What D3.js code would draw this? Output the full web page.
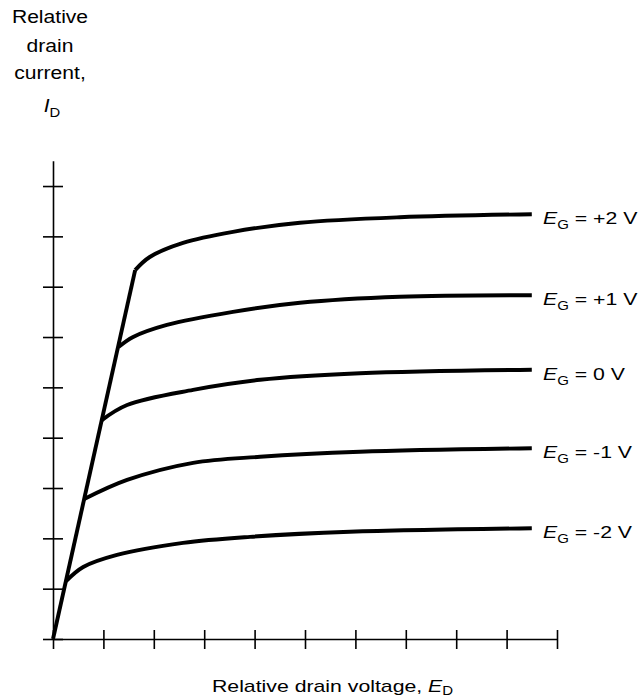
<!DOCTYPE html>
<html>
<head>
<meta charset="utf-8">
<script src="https://cdn.jsdelivr.net/npm/d3@7"></script>
<style>
body { margin: 0; background: #fff; }
text { font-family: "Liberation Sans", Arial, sans-serif; fill: #000; }
</style>
</head>
<body>
<div id="chart"></div>
<script>

// gate voltage of each curve, top to bottom
const gateVolts = ['+2', '+1', '0', '-1', '-2'];

// points of each curve, [relative drain voltage, relative drain current]
const egPlus2  = [[1.63, 7.33], [1.92, 7.59], [2.58, 7.87], [3.57, 8.09], [4.90, 8.27], [6.88, 8.38], [9.5, 8.44]];
const egPlus1  = [[1.30, 5.80], [1.59, 6.00], [2.26, 6.24], [3.57, 6.50], [4.90, 6.68], [6.88, 6.80], [9.5, 6.83]];
const egZero   = [[0.97, 4.35], [1.47, 4.65], [2.78, 4.95], [4.11, 5.15], [6.09, 5.28], [9.5, 5.35]];
const egMinus1 = [[0.62, 2.78], [1.47, 3.16], [2.78, 3.50], [4.11, 3.62], [6.09, 3.72], [9.5, 3.79]];
const egMinus2 = [[0.26, 1.15], [0.60, 1.43], [1.27, 1.67], [2.58, 1.91], [3.91, 2.03], [5.89, 2.13], [9.5, 2.20]];
const curves = [egPlus2, egPlus1, egZero, egMinus1, egMinus2];

// the steep ohmic part shared by all curves
const loadLine = [[0, 0], [1.63, 7.33]];

const xTicks = d3.range(0, 11);
const yTicks = d3.range(0, 10);

const width = 644, height = 698;

const svg = d3.select('#chart').append('svg')
    .attr('width', width)
    .attr('height', height);

const x = d3.scaleLinear().domain([0, 10]).range([53, 557]);
const y = d3.scaleLinear().domain([0, 9.5]).range([639, 639 - 9.5 * 50.33]);

// axes, ticks cross the axis line
const xAxis = svg.append('g')
    .attr('transform', 'translate(0,' + y(0) + ')')
    .call(d3.axisBottom(x).tickValues(xTicks).tickSizeOuter(0).tickFormat(''));
xAxis.selectAll('.tick line').attr('y1', -9).attr('y2', 10);

const yAxis = svg.append('g')
    .attr('transform', 'translate(' + x(0) + ',0)')
    .call(d3.axisLeft(y).tickValues(yTicks).tickSizeOuter(0).tickFormat(''));
yAxis.selectAll('.tick line').attr('x1', -10).attr('x2', 10);

svg.selectAll('.domain, .tick line')
    .attr('stroke', '#000')
    .attr('stroke-width', 1.6);

const line = d3.line()
    .x((d) => x(d[0]))
    .y((d) => y(d[1]))
    .curve(d3.curveCatmullRom.alpha(0.5));

svg.append('path')
    .attr('fill', 'none')
    .attr('stroke', '#000')
    .attr('stroke-width', 3.9)
    .attr('d', d3.line().x((d) => x(d[0])).y((d) => y(d[1]))(loadLine));

svg.selectAll('path.curve')
    .data(curves)
    .enter().append('path')
    .attr('class', 'curve')
    .attr('fill', 'none')
    .attr('stroke', '#000')
    .attr('stroke-width', 3.9)
    .attr('stroke-linejoin', 'round')
    .attr('d', (d) => line(d));

// text is a bit wider than normal in the original, so stretch it
function stretched(px, py, size, sx, anchor) {
    return svg.append('text')
        .attr('transform', 'translate(' + px + ',' + py + ') scale(' + sx + ',1)')
        .attr('text-anchor', anchor)
        .attr('font-size', size);
}

// curve labels
curves.forEach((c, i) => {
    const last = c[c.length - 1];
    const t = stretched(543, y(last[1]) + 10, 17, 1.25, 'start');
    t.append('tspan').attr('font-style', 'italic').text('E');
    t.append('tspan').attr('font-size', 12).attr('dy', 5).text('G');
    t.append('tspan').attr('dy', -5).text(' = ' + gateVolts[i] + ' V');
});

// y title
['Relative', 'drain', 'current,'].forEach((s, i) => {
    stretched(50, [23, 52, 79][i], 18.5, 1.14, 'middle').text(s);
});
const id = stretched(52, 112, 18.5, 1.14, 'middle');
id.append('tspan').attr('font-style', 'italic').text('I');
id.append('tspan').attr('font-size', 13).attr('dy', 5).text('D');

// x title
const xt = stretched(212, 692, 17, 1.25, 'start');
xt.append('tspan').text('Relative drain voltage, ');
xt.append('tspan').attr('font-style', 'italic').text('E');
xt.append('tspan').attr('font-size', 12).attr('dy', 3).text('D');

</script>
</body>
</html>
